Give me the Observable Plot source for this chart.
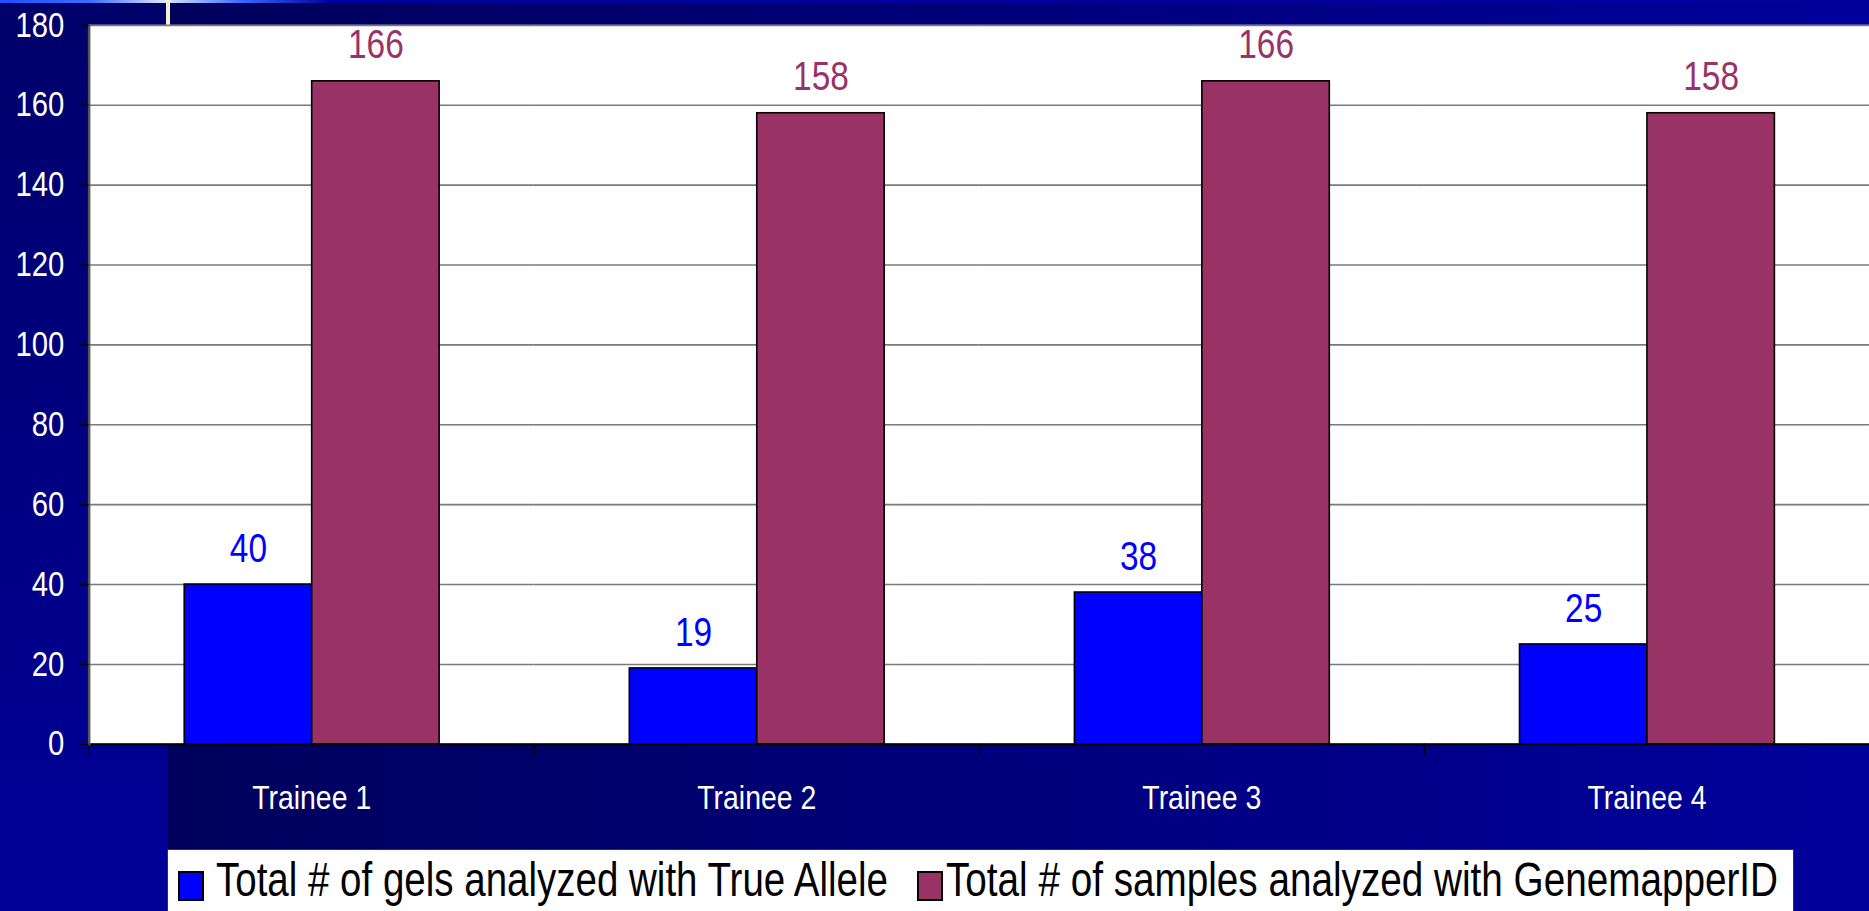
<!DOCTYPE html>
<html>
<head>
<meta charset="utf-8">
<script src="https://cdn.jsdelivr.net/npm/d3@7"></script>
<script src="https://cdn.jsdelivr.net/npm/@observablehq/plot@0.6"></script>
<style>
html,body{margin:0;padding:0;width:1869px;height:911px;overflow:hidden;}
body{position:relative;background:#000080;font-family:"Liberation Sans",Arial,sans-serif;}
#leftcol{position:absolute;left:0;top:0;width:168px;height:911px;background:linear-gradient(to bottom,#00006a,#000098);}
#rightbg{position:absolute;left:168px;top:0;width:1701px;height:911px;background:linear-gradient(to right,#00005c,#00009c);}
#topstrip{position:absolute;left:0;top:0;width:1869px;height:3px;background:linear-gradient(to right,#2050ff 0,#3a6cff 90px,#dfe6ff 165px,#3a6cff 240px,#00009a 330px,#00009a 100%);}
#vline{position:absolute;left:166px;top:0;width:4px;height:25px;background:#f4f1cf;}
#chart{position:absolute;left:0;top:0;}
#legend{position:absolute;left:167px;top:849px;}
</style>
</head>
<body>
<div id="leftcol"></div>
<div id="rightbg"></div>
<div id="topstrip"></div>
<div id="vline"></div>
<div id="chart"></div>
<div id="legend"></div>
<script>
const trainees = ["Trainee 1", "Trainee 2", "Trainee 3", "Trainee 4"];
const seriesNames = ["Total # of gels analyzed with True Allele", "Total # of samples analyzed with GenemapperID"];
const trueAllele = [40, 19, 38, 25];
const genemapper = [166, 158, 166, 158];
const seriesColors = ["#0000FF", "#993366"];
const yTicks = [0, 20, 40, 60, 80, 100, 120, 140, 160, 180];

const FONT = '"Liberation Sans",Arial,sans-serif';
const SX = 0.84; // narrow (condensed) lettering as in the original

const data = trainees.flatMap((t, i) => [
  {trainee: t, series: seriesNames[0], value: trueAllele[i]},
  {trainee: t, series: seriesNames[1], value: genemapper[i]}
]);

const H = 849, MT = 25, MB = 102;
const plotH = H - MT - MB;

const chart = Plot.plot({
  width: 1877,
  height: H,
  marginLeft: 89,
  marginRight: 0,
  marginTop: MT,
  marginBottom: MB,
  style: {background: "transparent", fontFamily: FONT, overflow: "visible"},
  fx: {domain: trainees, padding: 0, axis: null, label: null},
  x: {domain: seriesNames, paddingInner: 0, paddingOuter: 0.74, axis: null},
  y: {domain: [0, 180], axis: null, label: null},
  color: {domain: seriesNames, range: seriesColors},
  marks: [
    Plot.frame({fill: "white", stroke: "white", strokeWidth: 1}),
    Plot.gridY(yTicks, {stroke: "#7a7a7a", strokeOpacity: 1, strokeWidth: 1.6}),
    Plot.barY(data, {fx: "trainee", x: "series", y: "value", fill: "series", stroke: "black", strokeWidth: 1.6}),
    Plot.text(data, {fx: "trainee", x: "series", y: "value", text: d => String(d.value), fill: "series", lineAnchor: "bottom", dy: -23, fontSize: 40}),
    Plot.ruleY([0], {stroke: "black", strokeWidth: 2}),
    Plot.frame({anchor: "left", stroke: "black", strokeWidth: 1.5, insetTop: plotH, insetBottom: -10}),
    Plot.frame({anchor: "left", facetAnchor: "left", stroke: "#555", strokeWidth: 2.5}),
    Plot.axisY(yTicks, {tickSize: 9, tickPadding: 16, fontSize: 35, fill: "white", stroke: "black", strokeWidth: 1.5, label: null}),
    Plot.axisFx({anchor: "bottom", tickSize: 0, tickPadding: 41, fontSize: 34, fill: "white", label: null})
  ]
});

// condense lettering horizontally around each text's anchor point
d3.select(chart).selectAll("text").each(function() {
  const x = +this.getAttribute("x") || 0, y = +this.getAttribute("y") || 0;
  const t = this.getAttribute("transform") || "";
  this.setAttribute("transform", `${t} translate(${x},${y}) scale(${SX},1) translate(${-x},${-y})`);
});
document.getElementById("chart").appendChild(chart);

// legend (below the chart's SVG)
const LW = 1627, LH = 62;
const leg = d3.select("#legend").append("svg").attr("width", LW).attr("height", LH).style("display", "block");
leg.append("rect").attr("x", 0.5).attr("y", 0.5).attr("width", LW - 1).attr("height", LH + 4).attr("fill", "white").attr("stroke", "#333");
const items = [
  {sx: 12, tx: 49, tw: 672},
  {sx: 751, tx: 779, tw: 832}
];
const baseY = 47, SY = 1.2; // tall, narrow lettering of the original legend
seriesNames.forEach((name, i) => {
  const it = items[i];
  leg.append("rect").attr("x", it.sx).attr("y", 23).attr("width", 24).attr("height", 28)
    .attr("fill", seriesColors[i]).attr("stroke", "black").attr("stroke-width", 2);
  leg.append("text").attr("x", it.tx).attr("y", baseY).attr("font-family", FONT).attr("font-size", 40)
    .attr("textLength", it.tw).attr("lengthAdjust", "spacingAndGlyphs")
    .attr("transform", `translate(0,${baseY}) scale(1,${SY}) translate(0,${-baseY})`)
    .attr("fill", "black").text(name);
});
</script>
</body>
</html>
